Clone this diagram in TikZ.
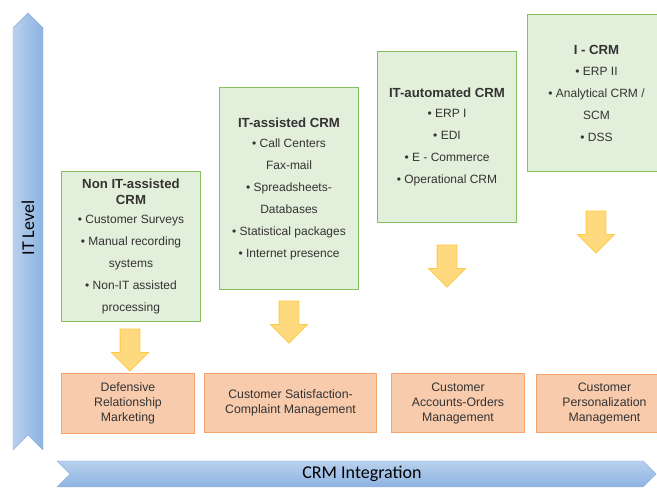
\documentclass[tikz,border=0pt]{standalone}
\usepackage{fontspec}
\setmainfont{Liberation Sans}
\newfontfamily\calfont{Carlito}
\usepackage{xcolor}
\usepackage{tikz}
\usetikzlibrary{shapes.arrows}

\definecolor{gfill}{HTML}{E2EFDA}
\definecolor{gline}{HTML}{84BE5E}
\definecolor{ofill}{HTML}{F8CBAD}
\definecolor{oline}{HTML}{F4A46C}
\definecolor{afill}{HTML}{FFD97E}
\definecolor{aline}{HTML}{FFC94A}
\definecolor{blight}{HTML}{B8D0EC}
\definecolor{bdark}{HTML}{8DB3E2}
\definecolor{txt}{HTML}{333333}

\begin{document}
\begin{tikzpicture}[x=1pt, y=-1pt,
    gbox/.style={draw=gline, line width=1pt, fill=gfill, rectangle, anchor=north west,
        align=center, inner sep=0pt, text=txt, font=\fontsize{12}{22}\selectfont},
    obox/.style={draw=oline, line width=1pt, fill=ofill, rectangle, anchor=north west,
        align=center, inner sep=0pt, text=txt, font=\fontsize{12.3}{15}\selectfont},
    blockarrow/.style={single arrow, shape border rotate=270, draw=aline, fill=afill,
        line width=0.8pt, minimum height=42pt, inner xsep=9.5pt, inner ysep=0pt,
        single arrow head extend=8.5pt, single arrow head indent=0pt}]
    \useasboundingbox (0,0) rectangle (657,489);
    \clip (0,0) rectangle (657,489);

    % Axes
    \path[left color=blight, right color=bdark, draw=bdark, line width=0.4pt]
        (13,28) -- (28,13) -- (43,28) -- (43,450) -- (28,435) -- (13,450) -- cycle;
    \node[rotate=90, font=\calfont\fontsize{18}{20}\selectfont] (itlevel) at (28,228) {IT Level};
    \path[top color=blight, bottom color=bdark, draw=bdark, line width=0.4pt]
        (57,461) -- (643,461) -- (656,474) -- (643,487) -- (57,487) -- (70,474) -- cycle;
    \node[font=\calfont\fontsize{18}{20}\selectfont] (integ) at (362,474) {CRM Integration};

    % CRM stages
    \node[gbox, minimum width=139pt, minimum height=150pt] (g1) at (61,171)
        {\textbf{\fontsize{13.2}{16}\selectfont Non IT-assisted}\\[-6pt]
         \textbf{\fontsize{13.2}{16}\selectfont CRM}\\[-3pt]
         • Customer Surveys\\ • Manual recording\\ systems\\ • Non-IT assisted\\ processing};
    \node[gbox, minimum width=139pt, minimum height=202pt] (g2) at (219,87)
        {\textbf{\fontsize{13.2}{16}\selectfont IT-assisted CRM}\\[-2pt]
         • Call Centers\\ Fax-mail\\ • Spreadsheets-\\ Databases\\
         • Statistical packages\\ • Internet presence};
    \node[gbox, minimum width=139pt, minimum height=171pt] (g3) at (377,51)
        {\textbf{\fontsize{13.2}{16}\selectfont IT-automated CRM}\\[-2pt]
         • ERP I\\ • EDI\\ • E - Commerce\\ • Operational CRM};
    \node[gbox, minimum width=138pt, minimum height=157pt] (g4) at (527,14)
        {\textbf{\fontsize{13.2}{16}\selectfont I - CRM}\\[-1pt]
         • ERP II\\ • Analytical CRM /\\ SCM\\ • DSS};

    % Arrows
    \node[blockarrow] (a1) at (130,345) {};
    \node[blockarrow] (a2) at (289,317) {};
    \node[blockarrow] (a3) at (447,261) {};
    \node[blockarrow] (a4) at (596,227) {};

    % Outcomes
    \node[obox, minimum width=133pt, minimum height=60pt] (o1) at (61,373)
        {Defensive\\ Relationship\\ Marketing};
    \node[obox, minimum width=172pt, minimum height=59pt] (o2) at (204,373)
        {Customer Satisfaction-\\ Complaint Management};
    \node[obox, minimum width=133pt, minimum height=59pt] (o3) at (391,373)
        {Customer\\ Accounts-Orders\\ Management};
    \node[obox, minimum width=136pt, minimum height=58pt] (o4) at (536,374)
        {Customer\\ Personalization\\ Management};
\end{tikzpicture}
\end{document}
